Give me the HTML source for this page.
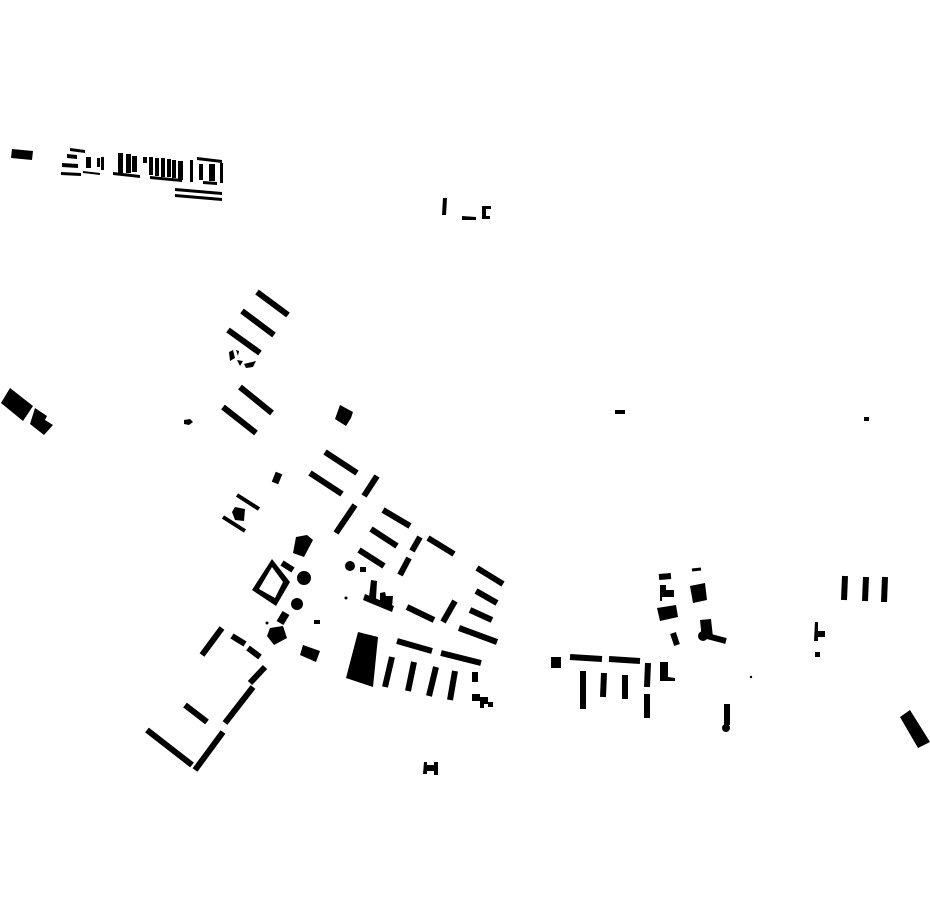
<!DOCTYPE html>
<html><head><meta charset="utf-8"><style>
html,body{margin:0;padding:0;background:#fff;}
svg{display:block}
</style></head><body>
<svg width="930" height="924" viewBox="0 0 930 924" xmlns="http://www.w3.org/2000/svg">
<rect width="930" height="924" fill="#fff"/>
<g fill="#000" stroke="none">
<polygon points="12,149 33,151 32,160 11,158"/>
<polygon points="70,148 85,150 85,153 70,151"/>
<polygon points="67,154 77,155 77,159 67,158"/>
<polygon points="62,163 78,164 78,168 62,167"/>
<polygon points="61,172 81,173 81,176 61,175"/>
<rect x="86" y="157" width="5" height="11"/>
<rect x="97" y="158" width="3" height="9"/>
<rect x="101" y="157" width="3" height="13"/>
<polygon points="83,171 100,173 100,175 83,173"/>
<rect x="118" y="153" width="5" height="20"/>
<rect x="126" y="154" width="5" height="19"/>
<rect x="132" y="156" width="5" height="16"/>
<rect x="143" y="157" width="4" height="6"/>
<rect x="149" y="157" width="4" height="18"/>
<rect x="155" y="158" width="4" height="18"/>
<rect x="161" y="158" width="4" height="19"/>
<rect x="167" y="159" width="4" height="18"/>
<rect x="172" y="160" width="4" height="18"/>
<rect x="178" y="161" width="5" height="19"/>
<polygon points="113,172 140,175 140,178 113,175"/>
<polygon points="150,176 182,179 182,182 150,179"/>
<rect x="190" y="160" width="3" height="22"/>
<polygon points="197,157 222,160 222,163 197,160"/>
<rect x="199" y="164" width="4" height="16"/>
<rect x="209" y="164" width="6" height="17"/>
<polygon points="203,181 217,182 217,185 203,184"/>
<rect x="220" y="163" width="3" height="20"/>
<polygon points="175,188 222,192 222,195 175,191"/>
<polygon points="175,194 222,198 222,201 175,197"/>
<polygon points="443,198 447,198 446,215 442,215"/>
<polygon points="462,216 476,217 476,220 462,220"/>
<path d="M482,206 H491 V209 H486 V216 H490 V219 H482 Z"/>
<rect x="615" y="410" width="10" height="4"/>
<rect x="864" y="417" width="5" height="4"/>
<polygon points="10,388 33,406 23,421 1,403"/>
<polygon points="35,408 47,416 45,420 53,425 44,435 30,424"/>
<polygon points="184,420 190,419 193,422 189,425 184,424"/>
<polygon points="340,405 353,412 351,418 346,426 335,419"/>
<polygon points="229,352 233,350 235,358 230,361"/>
<polygon points="237,360 243,361 240,366"/>
<polygon points="244,364 256,361 253,367 246,368"/>
<polygon points="236,350 239,351 238,356"/>
<polygon points="296,537 307,535 313,540 304,557 293,553"/>
<path fill-rule="evenodd" d="M272,559 L290,582 L276,606 L252,590 Z M272,567 L283,582 L275,598 L259,589 Z"/>
<circle cx="304" cy="578" r="7"/>
<circle cx="297" cy="604" r="6"/>
<polygon points="270,628 283,626 287,638 274,645 267,636"/>
<polygon points="303,645 320,651 316,662 300,655"/>
<circle cx="350" cy="566" r="5"/>
<rect x="360" y="567" width="6" height="5"/>
<circle cx="346" cy="598" r="1.5"/>
<circle cx="267" cy="623" r="1.5"/>
<rect x="314" y="620" width="6" height="4"/>
<polygon points="235,507 245,509 244,521 235,520 232,512"/>
<polygon points="365,594 394,606 392,612 363,600"/>
<polygon points="371,580 377,581 376,599 369,597"/>
<polygon points="380,593 385,592 386,596 393,596 392,607 380,603"/>
<polygon points="358,632 378,637 373,687 346,678"/>
<polygon points="700,620 711,619 713,637 702,640"/>
<circle cx="703" cy="636" r="5"/>
<polygon points="657,608 676,605 678,617 660,621"/>
<polygon points="660,662 668,662 668,677 675,678 675,681 660,681"/>
<path d="M660,585 H666 V590 H674 V597 H662 V601 H660 Z"/>
<polygon points="690,586 705,583 707,600 693,603"/>
<rect x="551" y="657" width="10" height="11"/>
<circle cx="751" cy="677" r="1.2"/>
<circle cx="726" cy="728" r="4"/>
<polygon points="900,717 910,710 930,742 918,748"/>
<path d="M815,622 H818 V631 H825 V637 H818 V641 H814 Z"/>
<rect x="815" y="652" width="5" height="5"/>
<path d="M472,694 H480 V697 H488 V702 H493 V707 H488 V704 H484 V708 H480 V701 H472 Z"/>
<path d="M424,762 H427 V765 H434 V762 H438 V775 H434 V771 H427 V774 H423 Z"/>
</g>
<g stroke="#000" stroke-linecap="butt" fill="none">
<g stroke-width="6">
<line x1="257" y1="292" x2="288" y2="315"/>
<line x1="242" y1="311" x2="274" y2="335"/>
<line x1="228" y1="330" x2="260" y2="353"/>
<line x1="240" y1="387" x2="272" y2="413"/>
<line x1="223" y1="407" x2="256" y2="433"/>
<line x1="325" y1="452" x2="357" y2="473"/>
<line x1="310" y1="473" x2="342" y2="494"/>
<line x1="377" y1="476" x2="364" y2="496"/>
<line x1="355" y1="505" x2="336" y2="533"/>
<line x1="383" y1="510" x2="410" y2="526"/>
<line x1="371" y1="529" x2="397" y2="546"/>
<line x1="359" y1="550" x2="384" y2="566"/>
<line x1="420" y1="537" x2="412" y2="551"/>
<line x1="409" y1="558" x2="400" y2="575"/>
<line x1="428" y1="538" x2="454" y2="554"/>
<line x1="407" y1="607" x2="434" y2="620"/>
<line x1="455" y1="601" x2="443" y2="622"/>
<line x1="477" y1="568" x2="503" y2="584"/>
<line x1="476" y1="591" x2="497" y2="603"/>
<line x1="470" y1="610" x2="492" y2="620"/>
<line x1="459" y1="628" x2="497" y2="642"/>
<line x1="397" y1="641" x2="432" y2="651"/>
<line x1="441" y1="653" x2="481" y2="663"/>
<line x1="392" y1="657" x2="385" y2="687"/>
<line x1="414" y1="662" x2="408" y2="691"/>
<line x1="436" y1="667" x2="429" y2="696"/>
<line x1="455" y1="671" x2="450" y2="700"/>
<line x1="475" y1="672" x2="475" y2="682"/>
<line x1="282" y1="563" x2="293" y2="570"/>
<line x1="286" y1="613" x2="280" y2="623" stroke-width="8"/>
<line x1="279" y1="473" x2="275" y2="483" stroke-width="7"/>
<line x1="237" y1="495" x2="259" y2="509" stroke-width="4"/>
<line x1="223" y1="517" x2="245" y2="531" stroke-width="4"/>
<line x1="222" y1="628" x2="202" y2="655"/>
<line x1="232" y1="636" x2="245" y2="644"/>
<line x1="248" y1="648" x2="260" y2="657"/>
<line x1="265" y1="667" x2="250" y2="683"/>
<line x1="253" y1="687" x2="225" y2="723"/>
<line x1="185" y1="705" x2="207" y2="722"/>
<line x1="223" y1="732" x2="195" y2="770"/>
<line x1="147" y1="730" x2="192" y2="765"/>
<line x1="659" y1="577" x2="671" y2="576"/>
<line x1="692" y1="570" x2="701" y2="569" stroke-width="3"/>
<line x1="673" y1="633" x2="677" y2="645"/>
<line x1="707" y1="636" x2="726" y2="641"/>
<line x1="570" y1="657" x2="602" y2="659"/>
<line x1="609" y1="659" x2="640" y2="661"/>
<line x1="583" y1="671" x2="583" y2="709"/>
<line x1="604" y1="673" x2="603" y2="697"/>
<line x1="625" y1="675" x2="625" y2="699"/>
<line x1="648" y1="663" x2="647" y2="687"/>
<line x1="647" y1="694" x2="647" y2="718"/>
<line x1="727" y1="704" x2="727" y2="725"/>
<line x1="845" y1="576" x2="844" y2="600"/>
<line x1="866" y1="577" x2="865" y2="601"/>
<line x1="885" y1="577" x2="884" y2="602"/>
</g>
</g>
</svg>
</body></html>
